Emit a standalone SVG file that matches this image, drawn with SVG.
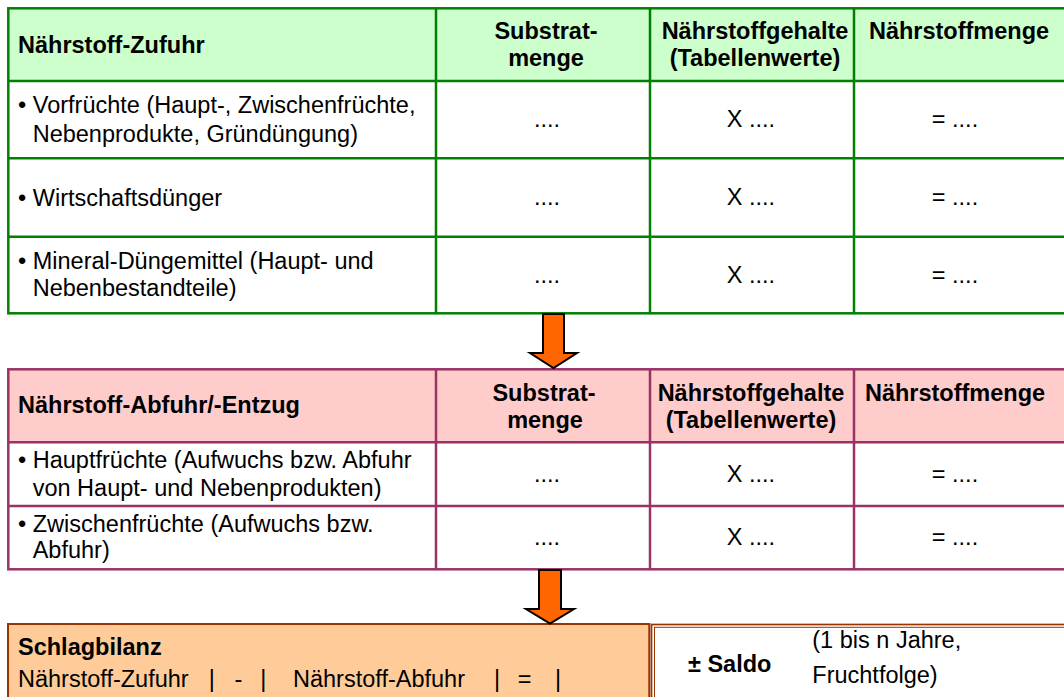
<svg xmlns="http://www.w3.org/2000/svg" width="1064" height="697" viewBox="0 0 1064 697">
<style>
text{font-family:"Liberation Sans",Arial,sans-serif;font-size:23.5px;fill:#000}
.b{font-weight:bold}
.m{text-anchor:middle}
.g{stroke:#008000;stroke-width:2.5;fill:none}
.p{stroke:#993366;stroke-width:2.5;fill:none}
.o{stroke:#993300}
.arrow{fill:#FF6600;stroke:#000;stroke-width:2;stroke-linejoin:miter}
</style>
<rect width="1064" height="697" fill="#fff"/>

<g id="zufuhr">
<rect x="8.3" y="8.3" width="1058" height="72.7" fill="#CCFFCC"/>
<rect class="g" x="8.3" y="8.3" width="1058" height="305"/>
<line class="g" x1="8.3" y1="81" x2="1066" y2="81"/>
<line class="g" x1="8.3" y1="158.3" x2="1066" y2="158.3"/>
<line class="g" x1="8.3" y1="236.7" x2="1066" y2="236.7"/>
<line class="g" x1="436" y1="8.3" x2="436" y2="313.3"/>
<line class="g" x1="650" y1="8.3" x2="650" y2="313.3"/>
<line class="g" x1="854" y1="8.3" x2="854" y2="313.3"/>
<text class="b" x="18" y="52.7">Nährstoff-Zufuhr</text>
<text class="b m" x="546" y="39.3">Substrat-</text>
<text class="b m" x="546" y="65.5">menge</text>
<text class="b m" x="755" y="39.3">Nährstoffgehalte</text>
<text class="b m" x="755" y="65.5">(Tabellenwerte)</text>
<text class="b m" x="959" y="39.3">Nährstoffmenge</text>
<text x="18" y="113">• Vorfrüchte (Haupt-, Zwischenfrüchte,</text>
<text x="32.7" y="141.7">Nebenprodukte, Gründüngung)</text>
<text x="18" y="206">• Wirtschaftsdünger</text>
<text x="18" y="269">• Mineral-Düngemittel (Haupt- und</text>
<text x="32.7" y="296">Nebenbestandteile)</text>
<text class="m" x="547" y="126.7">....</text>
<text class="m" x="751" y="126.7">X ....</text>
<text class="m" x="955" y="126.7">= ....</text>
<text class="m" x="547" y="205">....</text>
<text class="m" x="751" y="205">X ....</text>
<text class="m" x="955" y="205">= ....</text>
<text class="m" x="547" y="283.3">....</text>
<text class="m" x="751" y="283.3">X ....</text>
<text class="m" x="955" y="283.3">= ....</text>
</g>

<g id="abfuhr">
<rect x="8.3" y="369.3" width="1058" height="73" fill="#FFCCCC"/>
<rect class="p" x="8.3" y="369.3" width="1058" height="200"/>
<line class="p" x1="8.3" y1="442.3" x2="1066" y2="442.3"/>
<line class="p" x1="8.3" y1="506" x2="1066" y2="506"/>
<line class="p" x1="436" y1="369.3" x2="436" y2="569.3"/>
<line class="p" x1="650" y1="369.3" x2="650" y2="569.3"/>
<line class="p" x1="854" y1="369.3" x2="854" y2="569.3"/>
<text class="b" x="18" y="413.3">Nährstoff-Abfuhr/-Entzug</text>
<text class="b m" x="544" y="400.7">Substrat-</text>
<text class="b m" x="545" y="428">menge</text>
<text class="b m" x="751" y="400.7">Nährstoffgehalte</text>
<text class="b m" x="751" y="428">(Tabellenwerte)</text>
<text class="b m" x="955" y="400.7">Nährstoffmenge</text>
<text x="18" y="468.3">• Hauptfrüchte (Aufwuchs bzw. Abfuhr</text>
<text x="32.7" y="495.7">von Haupt- und Nebenprodukten)</text>
<text x="18" y="531.7">• Zwischenfrüchte (Aufwuchs bzw.</text>
<text x="32.7" y="558.3">Abfuhr)</text>
<text class="m" x="547" y="482.3">....</text>
<text class="m" x="751" y="482.3">X ....</text>
<text class="m" x="955" y="482.3">= ....</text>
<text class="m" x="547" y="545">....</text>
<text class="m" x="751" y="545">X ....</text>
<text class="m" x="955" y="545">= ....</text>
</g>

<g id="schlagbilanz">
<rect x="8" y="624" width="641.3" height="80" fill="#FFCC99" class="o" stroke-width="2"/>
<text class="b" x="18" y="655">Schlagbilanz</text>
<text x="18" y="686.7">Nährstoff-Zufuhr</text>
<text class="m" x="211.7" y="686.7">|</text>
<text class="m" x="238.5" y="686.7">-</text>
<text class="m" x="263.3" y="686.7">|</text>
<text x="293" y="686.7">Nährstoff-Abfuhr</text>
<text class="m" x="497" y="686.7">|</text>
<text class="m" x="524.5" y="686.7">=</text>
<text class="m" x="558" y="686.7">|</text>
</g>

<g id="saldo">
<rect x="651.5" y="624.5" width="420" height="80" fill="#fff" class="o" stroke-width="1.7"/>
<rect x="654.5" y="627.3" width="420" height="80" fill="none" class="o" stroke-width="1"/>
<text class="b" x="688" y="671.7">± Saldo</text>
<text x="812.3" y="648.3">(1 bis n Jahre,</text>
<text x="812.3" y="683.3">Fruchtfolge)</text>
</g>

<g id="connectors">
<polygon class="arrow" points="543,314 564,314 564,353 577,353 553.5,368 530,353 543,353"/>
<polygon class="arrow" points="539,570 561,570 561,609 574,609 550,623.5 526,609 539,609"/>
</g>
</svg>
